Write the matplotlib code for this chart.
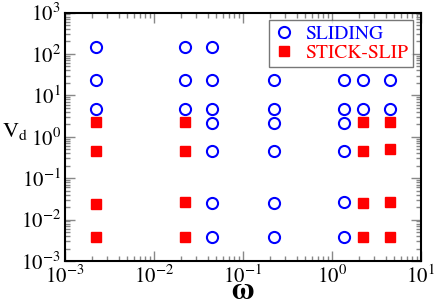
import numpy as np
import matplotlib
matplotlib.use("Agg")
import matplotlib.pyplot as plt
from matplotlib.ticker import LogLocator, LogFormatterMathtext, NullFormatter

plt.rcParams['font.family'] = 'STIXGeneral'
plt.rcParams['mathtext.fontset'] = 'stix'

# sliding points (omega, Vd)
sliding_w = [0.00222, 0.00222, 0.00222,
             0.0222, 0.0222, 0.0222,
             0.0447, 0.0447, 0.0447, 0.0447, 0.0447, 0.0447, 0.0447,
             0.222, 0.222, 0.222, 0.222, 0.222, 0.222,
             1.36, 1.36, 1.36, 1.36, 1.36, 1.36,
             2.22, 2.22,
             4.47, 4.47]
sliding_v = [145, 23, 4.7,
             145, 23, 4.7,
             145, 23, 4.7, 2.2, 0.45, 0.025, 0.0037,
             23, 4.7, 2.2, 0.45, 0.025, 0.0037,
             23, 4.7, 2.2, 0.45, 0.026, 0.0037,
             23, 4.7,
             23, 4.7]

# stick-slip points
stick_w = [0.00222, 0.00222, 0.00222, 0.00222,
           0.0222, 0.0222, 0.0222, 0.0222,
           2.22, 2.22, 2.22, 2.22,
           4.47, 4.47, 4.47, 4.47]
stick_v = [2.24, 0.45, 0.024, 0.0037,
           2.24, 0.45, 0.026, 0.0037,
           2.24, 0.45, 0.025, 0.0037,
           2.24, 0.5, 0.026, 0.0037]

fig = plt.figure(figsize=(4.36, 3.08), dpi=100)
ax = fig.add_axes([65/436, 1 - 261/308, (421-65)/436, (261-12.5)/308])

ax.plot(sliding_w, sliding_v, 'o', mfc='none', mec='#0000ff', mew=1.5, ms=8,
        ls='none', label='SLIDING')
ax.plot(stick_w, stick_v, 's', mfc='#ff0000', mec='#ff0000', ms=7.5,
        ls='none', label='STICK-SLIP')

ax.set_xscale('log')
ax.set_yscale('log')
ax.set_xlim(1e-3, 1e1)
ax.set_ylim(1e-3, 1e3)

for axis in (ax.xaxis, ax.yaxis):
    axis.set_major_locator(LogLocator(base=10, numticks=20))
    axis.set_minor_locator(LogLocator(base=10, subs=np.arange(2, 10), numticks=20))
    axis.set_major_formatter(LogFormatterMathtext())
    axis.set_minor_formatter(NullFormatter())

ax.tick_params(which='both', direction='in', top=True, right=True, labelsize=15)
ax.tick_params(which='major', length=7, width=1, color='#888888')
ax.tick_params(which='minor', length=3.5, width=1, color='#888888')
ax.tick_params(axis='x', pad=3)
ax.tick_params(axis='y', pad=3)
for sp in ax.spines.values():
    sp.set_linewidth(1.5)

# axis labels placed like the reference
fig.text(243/436, 1 - 292/308, r'$\mathbf{\omega}$', fontsize=22,
         ha='center', va='center')
ax.text(-0.177, 0.52, r'$\mathrm{V}_{\mathrm{d}}$', transform=ax.transAxes,
        fontsize=16, ha='left', va='center')

leg = ax.legend(loc='upper right', fontsize=14, frameon=True, fancybox=False,
                edgecolor='#555555', borderaxespad=0.4, handletextpad=0.6,
                labelspacing=0.1, borderpad=0.25, handlelength=1.0)
leg.get_frame().set_linewidth(1)
leg.texts[0].set_color('#0000ff')
leg.texts[1].set_color('#ff0000')

fig.savefig('out.png', dpi=100)
